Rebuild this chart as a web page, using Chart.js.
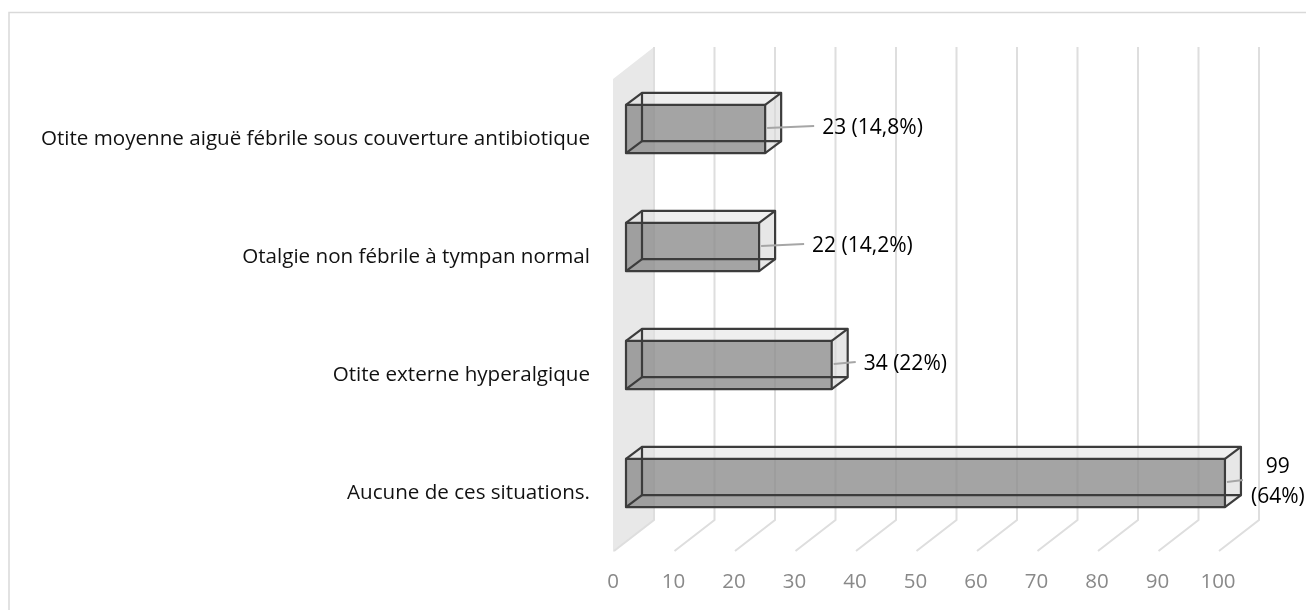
<!DOCTYPE html>
<html lang="fr">
<head>
<meta charset="utf-8">
<title>Situations</title>
<script src="https://cdn.jsdelivr.net/npm/chart.js@4.4.1/dist/chart.umd.min.js"></script>
<style>
    html, body { margin: 0; padding: 0; background: #ffffff; }
    #wrap { position: relative; width: 1306px; height: 610px; }
</style>
</head>
<body>
<div id="wrap"><canvas id="situationsChart" width="1306" height="610"></canvas></div>
<script>
// --- DONNÉES ---
const categories = [
    'Otite moyenne aiguë fébrile sous couverture antibiotique',
    'Otalgie non fébrile à tympan normal',
    'Otite externe hyperalgique',
    'Aucune de ces situations.'
];
const counts = [23, 22, 34, 99];
const percents = ['14,8%', '14,2%', '22%', '64%'];
const axisMin = 0;
const axisMax = 100;
const axisStep = 10;

// --- GÉOMÉTRIE 3D (pixels) ---
const FONT = '"Open Sans", Lato, sans-serif';
const FONT_SIZE = 20.6;
const FRONT_DX = 13;         // face avant des barres / bord avant du sol
const BAR_DX = 16, BAR_DY = -12;   // profondeur des barres
const WALL_DX = 41, WALL_DY = -32; // profondeur du fond
const labelGaps = [41, 37, 16, 10];

// Cadre + mur gauche + quadrillage de fond
const backdropPlugin = {
    id: 'backdrop3d',
    beforeDraw: (chart) => {
        const ctx = chart.ctx;
        ctx.save();
        ctx.strokeStyle = '#d9d9d9';
        ctx.lineWidth = 1.5;
        ctx.beginPath();
        ctx.moveTo(9, 610);
        ctx.lineTo(9, 12.5);
        ctx.lineTo(1306, 12.5);
        ctx.stroke();
        ctx.restore();
    },
    beforeDatasetsDraw: (chart) => {
        const ctx = chart.ctx;
        const xs = chart.scales.x;
        const area = chart.chartArea;
        const floorY = area.bottom + 10;
        const topBackY = area.top - 23;
        const x0 = xs.getPixelForValue(axisMin);

        ctx.save();
        // mur latéral
        ctx.fillStyle = '#e8e8e8';
        ctx.beginPath();
        ctx.moveTo(x0, topBackY - WALL_DY);
        ctx.lineTo(x0 + WALL_DX, topBackY);
        ctx.lineTo(x0 + WALL_DX, floorY + WALL_DY);
        ctx.lineTo(x0, floorY);
        ctx.closePath();
        ctx.fill();

        // lignes du quadrillage : verticale au fond puis diagonale sur le sol
        ctx.strokeStyle = '#dedede';
        ctx.lineWidth = 2;
        xs.ticks.forEach(t => {
            const px = xs.getPixelForValue(t.value);
            ctx.beginPath();
            ctx.moveTo(px + WALL_DX, topBackY);
            ctx.lineTo(px + WALL_DX, floorY + WALL_DY);
            ctx.lineTo(px + 1, floorY - 1);
            ctx.stroke();
        });
        ctx.restore();
    }
};

// Barres en boîtes 3D + étiquettes de données
const boxPlugin = {
    id: 'box3d',
    afterDatasetsDraw: (chart) => {
        const ctx = chart.ctx;
        const meta = chart.getDatasetMeta(0);
        ctx.save();
        meta.data.forEach((bar, i) => {
            const p = bar.getProps(['x', 'y', 'base', 'height'], true);
            const fx0 = p.base + FRONT_DX, fx1 = p.x + FRONT_DX;
            const fy0 = p.y - p.height / 2, fy1 = p.y + p.height / 2;
            const bx0 = fx0 + BAR_DX, bx1 = fx1 + BAR_DX;
            const by0 = fy0 + BAR_DY, by1 = fy1 + BAR_DY;

            const poly = (pts, fill) => {
                ctx.beginPath();
                ctx.moveTo(pts[0][0], pts[0][1]);
                pts.slice(1).forEach(q => ctx.lineTo(q[0], q[1]));
                ctx.closePath();
                ctx.fillStyle = fill;
                ctx.fill();
            };
            poly([[fx0, fy0], [fx1, fy0], [bx1, by0], [bx0, by0]], 'rgba(225,225,225,0.55)');
            poly([[fx1, fy0], [bx1, by0], [bx1, by1], [fx1, fy1]], 'rgba(215,215,215,0.6)');
            poly([[fx0, fy0], [fx1, fy0], [fx1, fy1], [fx0, fy1]], 'rgba(138,138,138,0.78)');

            // arêtes
            ctx.strokeStyle = '#3c3c3c';
            ctx.lineWidth = 2.2;
            ctx.lineJoin = 'round';
            ctx.strokeRect(bx0, by0, bx1 - bx0, by1 - by0);
            ctx.strokeRect(fx0, fy0, fx1 - fx0, fy1 - fy0);
            ctx.beginPath();
            [[fx0, fy0, bx0, by0], [fx1, fy0, bx1, by0], [fx1, fy1, bx1, by1], [fx0, fy1, bx0, by1]]
                .forEach(s => { ctx.moveTo(s[0], s[1]); ctx.lineTo(s[2], s[3]); });
            ctx.stroke();

            // étiquette
            const lx = bx1 + labelGaps[i];
            const cy = p.y - 1;
            ctx.strokeStyle = '#a6a6a6';
            ctx.lineWidth = 2;
            ctx.beginPath();
            ctx.moveTo(fx1 + 2, cy);
            ctx.lineTo(lx - 8, cy - 2);
            ctx.stroke();

            ctx.fillStyle = '#000000';
            ctx.font = '21px ' + FONT;
            ctx.textBaseline = 'middle';
            const text = `${counts[i]} (${percents[i]})`;
            if (lx + ctx.measureText(text).width > chart.width) {
                // pas assez de place : sur deux lignes, centré
                const l1 = `${counts[i]}`, l2 = `(${percents[i]})`;
                const w = ctx.measureText(l2).width;
                ctx.textAlign = 'center';
                ctx.fillText(l1, lx + w / 2, cy - 15);
                ctx.fillText(l2, lx + w / 2, cy + 15);
            } else {
                ctx.textAlign = 'left';
                ctx.fillText(text, lx, cy);
            }
        });
        ctx.restore();
    }
};

new Chart(document.getElementById('situationsChart').getContext('2d'), {
    type: 'bar',
    data: {
        labels: categories,
        datasets: [{
            data: counts,
            backgroundColor: 'rgba(0,0,0,0)',
            borderWidth: 0,
            categoryPercentage: 0.41,
            barPercentage: 1
        }]
    },
    options: {
        indexAxis: 'y',
        responsive: false,
        animation: false,
        layout: { padding: { left: 0, top: 70, right: 88, bottom: 0 } },
        plugins: { legend: { display: false }, tooltip: { enabled: false } },
        scales: {
            x: {
                min: axisMin,
                max: axisMax,
                ticks: { stepSize: axisStep, color: '#898989', font: { family: FONT, size: 20.5 }, padding: 28, maxRotation: 0 },
                grid: { display: false, drawTicks: false },
                border: { display: false },
                afterFit: (scale) => { scale.height = 68; }
            },
            y: {
                ticks: { color: '#111111', font: { family: FONT, size: FONT_SIZE }, padding: 23, labelOffset: 10 },
                grid: { display: false, drawTicks: false },
                border: { display: false },
                afterFit: (scale) => { scale.width = 613; }
            }
        }
    },
    plugins: [backdropPlugin, boxPlugin]
});
</script>
</body>
</html>
